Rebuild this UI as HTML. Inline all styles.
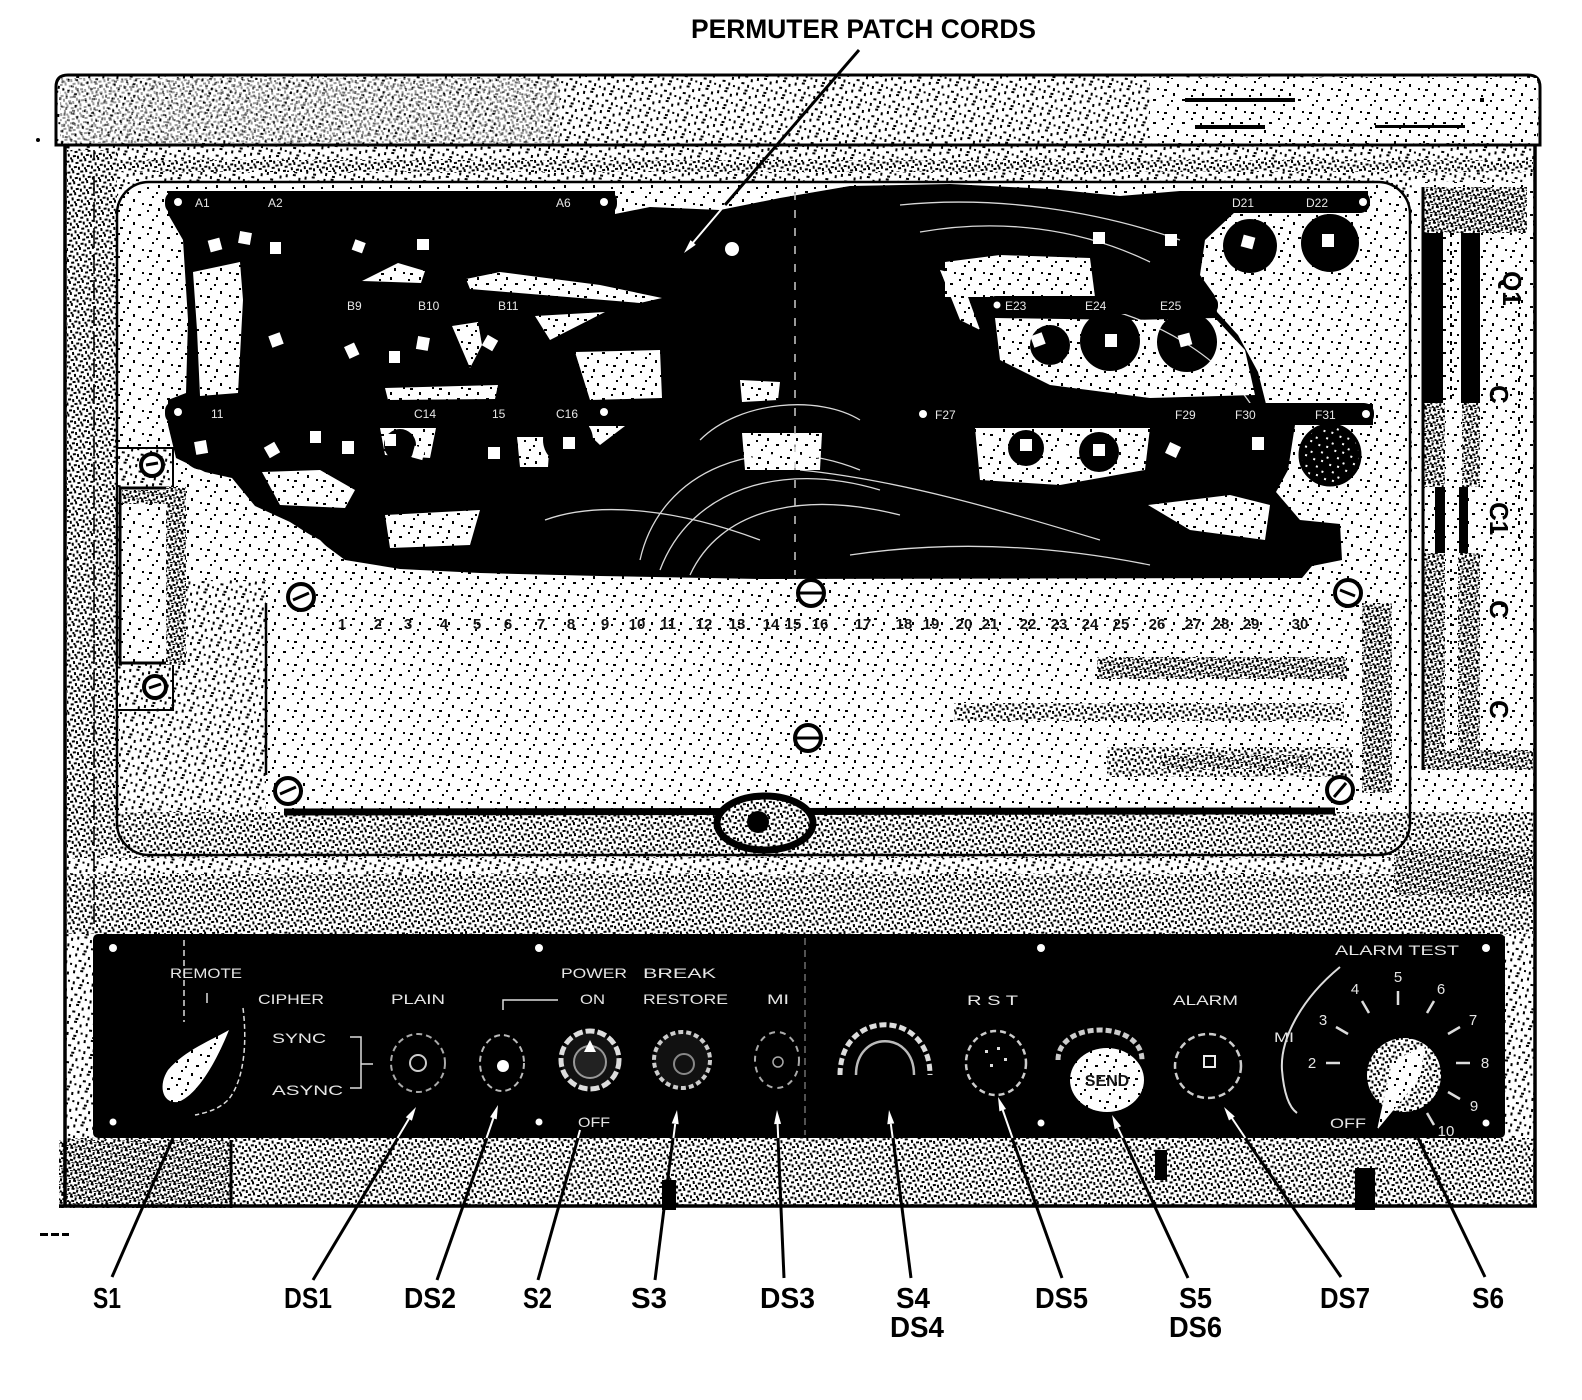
<!DOCTYPE html>
<html><head><meta charset="utf-8"><style>
html,body{margin:0;padding:0;background:#fff;}
svg{display:block;}
</style></head><body>
<svg width="1582" height="1400" viewBox="0 0 1582 1400" xmlns="http://www.w3.org/2000/svg" font-family="'Liberation Sans', sans-serif">
<defs>
<pattern id="Plt" width="29" height="23" patternUnits="userSpaceOnUse">
<rect width="29" height="23" fill="#fff"/>
<g fill="#000"><rect x="2" y="3" width="2" height="2"/><rect x="13" y="1" width="2" height="3"/><rect x="22" y="7" width="3" height="2"/><rect x="7" y="12" width="2" height="2"/><rect x="17" y="15" width="2" height="3"/><rect x="26" y="19" width="2" height="2"/><rect x="4" y="20" width="3" height="2"/><rect x="11" y="8" width="2" height="2"/></g>
</pattern>
<pattern id="Pmd" width="19" height="17" patternUnits="userSpaceOnUse" patternTransform="rotate(7)">
<rect width="19" height="17" fill="#fff"/>
<g fill="#000"><rect x="1" y="2" width="2" height="3"/><rect x="8" y="1" width="3" height="2"/><rect x="14" y="4" width="2" height="3"/><rect x="5" y="8" width="3" height="2"/><rect x="11" y="10" width="2" height="3"/><rect x="16" y="12" width="2" height="2"/><rect x="2" y="13" width="2" height="3"/><rect x="9" y="15" width="3" height="2"/></g>
</pattern>
<pattern id="Pdk" width="13" height="11" patternUnits="userSpaceOnUse" patternTransform="rotate(-5)">
<rect width="13" height="11" fill="#fff"/>
<g fill="#000"><rect x="0" y="1" width="3" height="2"/><rect x="5" y="0" width="2" height="3"/><rect x="9" y="3" width="3" height="2"/><rect x="2" y="5" width="2" height="3"/><rect x="7" y="7" width="3" height="2"/><rect x="11" y="8" width="2" height="3"/><rect x="4" y="9" width="2" height="2"/></g>
</pattern>
<pattern id="Pxd" width="9" height="8" patternUnits="userSpaceOnUse" patternTransform="rotate(11)">
<rect width="9" height="8" fill="#fff"/>
<g fill="#000"><rect x="0" y="0" width="3" height="2"/><rect x="5" y="1" width="2" height="3"/><rect x="2" y="4" width="3" height="2"/><rect x="7" y="5" width="2" height="2"/><rect x="0" y="6" width="2" height="2"/><rect x="4" y="7" width="3" height="1"/></g>
</pattern>
<pattern id="Pwk" width="17" height="15" patternUnits="userSpaceOnUse" patternTransform="rotate(20)">
<rect width="17" height="15" fill="#000"/>
<g fill="#fff"><rect x="2" y="2" width="2" height="2"/><rect x="9" y="5" width="2" height="2"/><rect x="14" y="11" width="2" height="2"/><rect x="5" y="10" width="2" height="2"/></g>
</pattern>
</defs>

<rect width="1582" height="1400" fill="#fff"/>

<!-- body -->
<rect x="65" y="145" width="1470" height="1060" fill="url(#Pmd)"/>
<rect x="67" y="150" width="50" height="780" fill="url(#Pdk)"/>
<!-- inner panel -->
<rect x="117" y="182" width="1293" height="673" rx="32" fill="url(#Plt)"/>
<rect x="119" y="580" width="147" height="270" fill="url(#Pmd)"/>
<!-- dense band -->
<rect x="67" y="812" width="1466" height="122" fill="url(#Pdk)"/>
<rect x="67" y="858" width="1466" height="16" fill="url(#Pmd)"/>
<rect x="1394" y="850" width="138" height="45" fill="url(#Pxd)"/>
<rect x="780" y="880" width="510" height="45" fill="url(#Pdk)"/>
<rect x="117" y="182" width="1293" height="673" rx="32" fill="none" stroke="#000" stroke-width="2.5"/>
<line x1="94" y1="150" x2="94" y2="930" stroke="#000" stroke-width="1.5" stroke-dasharray="20 6"/>
<rect x="67" y="160" width="1466" height="12" fill="url(#Pdk)"/>

<!-- top band -->
<path d="M56,145 L56,87 Q56,75 68,75 L1528,75 Q1540,75 1540,87 L1540,145 Z" fill="url(#Pmd)" stroke="#000" stroke-width="3"/>
<rect x="1150" y="78" width="387" height="65" fill="url(#Plt)"/>
<rect x="60" y="78" width="500" height="65" fill="url(#Pdk)" opacity="0.4"/>
<g fill="#000"><rect x="1185" y="98" width="110" height="4"/><rect x="1195" y="125" width="70" height="4"/><rect x="1375" y="125" width="90" height="3"/><rect x="1480" y="98" width="4" height="4"/></g>

<!-- bottom strip of body -->
<rect x="67" y="1138" width="1466" height="67" fill="url(#Pdk)"/>
<rect x="59" y="1140" width="172" height="68" fill="url(#Pxd)"/>
<line x1="231" y1="1140" x2="231" y2="1208" stroke="#000" stroke-width="3"/>
<rect x="662" y="1180" width="14" height="30" fill="#000"/>
<rect x="1355" y="1168" width="20" height="42" fill="#000"/>
<rect x="1155" y="1150" width="12" height="30" fill="#000"/>

<!-- body outline -->
<line x1="65" y1="145" x2="65" y2="1207" stroke="#000" stroke-width="3.5"/>
<line x1="1535" y1="145" x2="1535" y2="1207" stroke="#000" stroke-width="3.5"/>
<line x1="59" y1="1206" x2="1537" y2="1206" stroke="#000" stroke-width="3.5"/>

<!-- right component -->
<rect x="1412" y="182" width="121" height="630" fill="url(#Plt)"/>
<rect x="1423" y="187" width="104" height="46" fill="url(#Pxd)"/>
<rect x="1423" y="233" width="20" height="170" fill="#000"/>
<rect x="1461" y="233" width="19" height="170" fill="#000"/>
<line x1="1451" y1="233" x2="1451" y2="403" stroke="#000" stroke-width="2" stroke-dasharray="4 5"/>
<rect x="1423" y="403" width="22" height="84" fill="url(#Pxd)"/>
<rect x="1462" y="403" width="18" height="84" fill="url(#Pxd)"/>
<rect x="1435" y="487" width="10" height="66" fill="#000"/>
<rect x="1459" y="487" width="9" height="66" fill="#000"/>
<rect x="1423" y="553" width="22" height="200" fill="url(#Pxd)"/>
<rect x="1458" y="553" width="22" height="200" fill="url(#Pxd)"/>
<line x1="1451" y1="560" x2="1451" y2="750" stroke="#000" stroke-width="2" stroke-dasharray="3 6"/>
<rect x="1423" y="750" width="110" height="20" fill="url(#Pxd)"/>
<line x1="1423" y1="187" x2="1423" y2="770" stroke="#000" stroke-width="3"/>
<line x1="1519" y1="300" x2="1519" y2="560" stroke="#000" stroke-width="2" stroke-dasharray="4 9"/>
<g font-size="26" font-weight="bold" fill="#000">
<text x="1486" y="272" transform="rotate(90 1495 280)">Q1</text>
<text x="1485" y="400" transform="rotate(90 1495 395)">C</text>
<text x="1482" y="520" transform="rotate(90 1495 515)">C1</text>
<text x="1485" y="615" transform="rotate(90 1495 610)">C</text>
<text x="1485" y="715" transform="rotate(90 1495 710)">C</text>
</g>

<!-- left component -->
<rect x="117" y="448" width="56" height="262" fill="url(#Pmd)" stroke="#000" stroke-width="2"/>
<rect x="120" y="488" width="48" height="175" fill="url(#Plt)" stroke="#000" stroke-width="3"/>
<rect x="166" y="487" width="20" height="178" fill="url(#Pxd)"/>
<rect x="122" y="490" width="44" height="14" fill="url(#Pxd)"/>
<circle cx="152" cy="465" r="11" fill="#fff" stroke="#000" stroke-width="4"/>
<path d="M146,465 L158,463" stroke="#000" stroke-width="3"/>
<circle cx="155" cy="687" r="11" fill="#fff" stroke="#000" stroke-width="4"/>
<path d="M149,688 L161,684" stroke="#000" stroke-width="3"/>

<!-- lower plate -->
<rect x="266" y="578" width="1096" height="232" fill="url(#Plt)"/>
<line x1="266" y1="603" x2="266" y2="775" stroke="#000" stroke-width="2.5"/>
<rect x="1362" y="603" width="30" height="190" fill="url(#Pxd)"/>
<line x1="284" y1="812" x2="1335" y2="811" stroke="#000" stroke-width="7"/>
<rect x="1097" y="657" width="250" height="22" fill="url(#Pxd)"/>
<rect x="954" y="703" width="390" height="18" fill="url(#Pdk)"/>
<rect x="1107" y="747" width="246" height="30" fill="url(#Pdk)"/>
<rect x="1160" y="755" width="150" height="14" fill="url(#Pxd)"/>
<g font-size="15" font-weight="bold" fill="#111" text-anchor="middle">
<text x="342" y="629">1</text><text x="378" y="629">2</text><text x="408" y="629">3</text><text x="444" y="629">4</text><text x="477" y="629">5</text><text x="508" y="629">6</text><text x="541" y="629">7</text><text x="571" y="629">8</text><text x="605" y="629">9</text><text x="637" y="629">10</text><text x="668" y="629">11</text><text x="704" y="629">12</text><text x="737" y="629">13</text><text x="771" y="629">14</text><text x="793" y="629">15</text><text x="820" y="629">16</text><text x="863" y="629">17</text><text x="904" y="629">18</text><text x="931" y="629">19</text><text x="964" y="629">20</text><text x="990" y="629">21</text><text x="1028" y="629">22</text><text x="1059" y="629">23</text><text x="1090" y="629">24</text><text x="1121" y="629">25</text><text x="1157" y="629">26</text><text x="1193" y="629">27</text><text x="1221" y="629">28</text><text x="1251" y="629">29</text><text x="1300" y="629">30</text>
</g>
<!-- screws -->
<g stroke="#000" stroke-width="4" fill="#fff">
<circle cx="301" cy="597" r="13"/><circle cx="811" cy="593" r="13"/><circle cx="1348" cy="593" r="13"/>
<circle cx="288" cy="791" r="13"/><circle cx="808" cy="738" r="13"/><circle cx="1340" cy="790" r="13"/>
</g>
<g stroke="#000" stroke-width="3">
<path d="M293,600 L309,593"/><path d="M800,593 L822,593"/><path d="M1340,590 L1355,596"/>
<path d="M280,794 L296,787"/><path d="M797,738 L819,738"/><path d="M1334,797 L1346,783"/>
</g>
<!-- oval knob under plate -->
<ellipse cx="765" cy="823" rx="48" ry="27" fill="url(#Pdk)" stroke="#000" stroke-width="7"/>
<circle cx="758" cy="822" r="11" fill="#000"/>

<!-- patch cord mass -->
<path d="M168,191 L615,191 L615,214 L650,207 L720,210 L780,198 L850,186 L950,184 L1050,189 L1120,196 L1180,191 L1368,191 L1368,208 L1235,212 L1205,240 L1200,275 L1215,296 L1217,312 L1238,335 L1258,372 L1266,404 L1373,404 L1373,425 L1295,425 L1288,470 L1276,492 L1300,520 L1340,524 L1342,560 L1312,566 L1302,578 L760,579 L600,576 L480,573 L400,569 L345,560 L318,540 L290,522 L255,506 L232,478 L205,472 L176,458 L168,425 L168,400 L186,393 L188,320 L183,240 L168,214 Z" fill="#000"/>
<g fill="url(#Plt)">
<polygon points="193,272 240,262 243,300 238,393 200,396 197,330"/>
<polygon points="362,281 398,263 425,271 421,283"/>
<polygon points="466,279 500,272 600,285 662,298 640,303 470,289"/>
<polygon points="452,326 478,322 482,345 470,368"/>
<polygon points="385,388 498,385 495,399 388,400"/>
<polygon points="535,316 605,312 550,340"/>
<polygon points="575,352 660,350 662,398 590,400"/>
<polygon points="380,428 436,428 430,458 385,455"/>
<polygon points="517,437 550,437 548,467 520,467"/>
<polygon points="580,426 625,426 600,445"/>
<polygon points="262,472 320,470 355,490 345,508 280,505"/>
<polygon points="385,515 480,510 470,545 390,548"/>
<polygon points="945,262 1000,255 1090,258 1095,297 945,297"/>
<polygon points="940,270 960,275 980,330 960,320"/>
<polygon points="995,318 1130,320 1215,318 1245,350 1255,395 1150,398 1050,385 1000,360"/>
<polygon points="975,428 1150,428 1145,470 1060,485 980,480"/>
<polygon points="1148,505 1230,495 1270,505 1265,540 1190,530"/>
<polygon points="742,433 822,433 820,470 745,470"/>
<polygon points="740,380 780,382 778,400 742,402"/>
<polygon points="292,525 320,540 340,560 300,562 285,540"/>
</g>
<!-- plug circles -->
<g fill="#000">
<circle cx="1110" cy="341" r="30"/><circle cx="1187" cy="342" r="30"/>
<circle cx="1250" cy="246" r="27"/><circle cx="1330" cy="243" r="29"/>
<circle cx="1258" cy="447" r="27"/>
<circle cx="203" cy="448" r="22"/><circle cx="493" cy="447" r="25"/><circle cx="568" cy="440" r="25"/>
<circle cx="1050" cy="345" r="20"/>
<circle cx="1026" cy="448" r="18"/><circle cx="1099" cy="452" r="20"/><circle cx="1173" cy="452" r="20"/>
<circle cx="400" cy="445" r="16"/>
</g>
<circle cx="1330" cy="455" r="30" fill="url(#Pwk)" stroke="#000" stroke-width="3"/>
<!-- cord highlights -->
<g fill="none" stroke="#fff" stroke-width="1.3" opacity="0.85">
<path d="M640,560 C660,470 760,430 860,470"/>
<path d="M660,570 C690,490 780,460 880,490"/>
<path d="M690,575 C720,510 800,490 900,515"/>
<path d="M700,440 C740,400 820,395 860,420"/>
<path d="M900,205 C1000,195 1100,212 1180,240"/>
<path d="M920,232 C1000,218 1080,228 1150,262"/>
<path d="M545,520 C600,500 680,510 760,540"/>
<path d="M800,470 C900,480 1000,510 1100,540"/>
<path d="M850,555 C950,540 1050,545 1150,565"/>
<path d="M1060,300 C1150,310 1230,360 1260,420"/>
</g>
<line x1="795" y1="192" x2="795" y2="575" stroke="#ccc" stroke-width="1.5" stroke-dasharray="8 10"/>
<!-- white connector squares -->
<g fill="#fff">
<rect x="209" y="239" width="12" height="12" transform="rotate(-15 215 245)"/>
<rect x="239" y="232" width="12" height="12" transform="rotate(10 245 238)"/>
<rect x="270" y="242" width="11" height="12"/>
<rect x="353" y="241" width="11" height="11" transform="rotate(20 359 247)"/>
<rect x="417" y="239" width="12" height="11"/>
<rect x="270" y="334" width="12" height="12" transform="rotate(-20 276 340)"/>
<rect x="346" y="344" width="11" height="13" transform="rotate(-25 352 350)"/>
<rect x="389" y="351" width="11" height="12"/>
<rect x="417" y="337" width="12" height="13" transform="rotate(10 423 343)"/>
<rect x="484" y="337" width="12" height="12" transform="rotate(30 490 343)"/>
<rect x="195" y="441" width="12" height="13" transform="rotate(-10 201 447)"/>
<rect x="266" y="444" width="12" height="12" transform="rotate(-30 272 450)"/>
<rect x="310" y="431" width="11" height="12"/>
<rect x="342" y="441" width="12" height="13"/>
<rect x="385" y="434" width="11" height="12"/>
<rect x="413" y="447" width="11" height="12" transform="rotate(15 419 453)"/>
<rect x="488" y="447" width="12" height="12"/>
<rect x="563" y="437" width="12" height="12"/>
<rect x="1093" y="232" width="12" height="12"/>
<rect x="1165" y="234" width="12" height="12"/>
<rect x="1242" y="236" width="12" height="12" transform="rotate(15 1248 242)"/>
<rect x="1322" y="234" width="12" height="13"/>
<rect x="1032" y="334" width="12" height="12" transform="rotate(-20 1038 340)"/>
<rect x="1105" y="334" width="12" height="13"/>
<rect x="1179" y="334" width="12" height="12" transform="rotate(-15 1185 340)"/>
<rect x="983" y="437" width="12" height="12"/>
<rect x="1020" y="439" width="12" height="12"/>
<rect x="1056" y="444" width="12" height="12" transform="rotate(20 1062 450)"/>
<rect x="1093" y="444" width="12" height="12"/>
<rect x="1167" y="444" width="12" height="12" transform="rotate(25 1173 450)"/>
<rect x="1252" y="437" width="12" height="13"/>
<circle cx="732" cy="249" r="7"/>
</g>
<!-- strips -->
<g fill="#000">
<rect x="165" y="191" width="452" height="23" rx="10"/>
<rect x="165" y="401" width="452" height="23" rx="10"/>
<rect x="330" y="298" width="180" height="16" rx="6"/>
<rect x="1175" y="191" width="195" height="22" rx="10"/>
<rect x="988" y="296" width="230" height="18" rx="8"/>
<rect x="912" y="403" width="462" height="22" rx="10"/>
</g>
<g fill="#fff">
<circle cx="178" cy="202" r="4"/><circle cx="604" cy="202" r="4"/>
<circle cx="178" cy="412" r="4"/><circle cx="604" cy="412" r="4"/>
<circle cx="1363" cy="202" r="4"/><circle cx="997" cy="305" r="3.5"/>
<circle cx="923" cy="414" r="4"/><circle cx="1366" cy="414" r="4"/>
</g>
<g font-size="12" fill="#e8e8e8">
<text x="195" y="207">A1</text><text x="268" y="207">A2</text><text x="556" y="207">A6</text>
<text x="211" y="418">11</text><text x="414" y="418">C14</text><text x="492" y="418">15</text><text x="556" y="418">C16</text>
<text x="347" y="310">B9</text><text x="418" y="310">B10</text><text x="498" y="310">B11</text>
<text x="1232" y="207">D21</text><text x="1306" y="207">D22</text>
<text x="1005" y="310">E23</text><text x="1085" y="310">E24</text><text x="1160" y="310">E25</text>
<text x="935" y="419">F27</text><text x="1175" y="419">F29</text><text x="1235" y="419">F30</text><text x="1315" y="419">F31</text>
</g>

<!-- control panel -->
<rect x="93" y="934" width="1412" height="204" rx="5" fill="#000"/>
<g fill="#fff">
<circle cx="113" cy="948" r="4"/><circle cx="539" cy="948" r="4"/><circle cx="1041" cy="948" r="4"/><circle cx="1486" cy="948" r="4"/>
<circle cx="113" cy="1122" r="3.5"/><circle cx="539" cy="1122" r="3.5"/><circle cx="1041" cy="1123" r="3.5"/><circle cx="1486" cy="1123" r="3.5"/>
</g>
<line x1="805" y1="938" x2="805" y2="1135" stroke="#888" stroke-width="1.2" stroke-dasharray="7 5"/>
<g font-size="14" fill="#e6e6e6">
<text x="170" y="978" textLength="72" lengthAdjust="spacingAndGlyphs">REMOTE</text>
<text x="258" y="1004" textLength="66" lengthAdjust="spacingAndGlyphs">CIPHER</text>
<text x="272" y="1043" textLength="54" lengthAdjust="spacingAndGlyphs">SYNC</text>
<text x="272" y="1095" textLength="71" lengthAdjust="spacingAndGlyphs">ASYNC</text>
<text x="391" y="1004" textLength="54" lengthAdjust="spacingAndGlyphs">PLAIN</text>
<text x="561" y="978" textLength="66" lengthAdjust="spacingAndGlyphs">POWER</text>
<text x="580" y="1004" textLength="25" lengthAdjust="spacingAndGlyphs">ON</text>
<text x="643" y="978" textLength="73" lengthAdjust="spacingAndGlyphs">BREAK</text>
<text x="643" y="1004" textLength="85" lengthAdjust="spacingAndGlyphs">RESTORE</text>
<text x="767" y="1004" textLength="22" lengthAdjust="spacingAndGlyphs">MI</text>
<text x="578" y="1127" textLength="32" lengthAdjust="spacingAndGlyphs">OFF</text>
<text x="967" y="1005" textLength="51" lengthAdjust="spacingAndGlyphs">R S T</text>
<text x="1173" y="1005" textLength="65" lengthAdjust="spacingAndGlyphs">ALARM</text>
<text x="1335" y="955" textLength="124" lengthAdjust="spacingAndGlyphs">ALARM TEST</text>
<text x="1274" y="1042" textLength="20" lengthAdjust="spacingAndGlyphs">MI</text>
<text x="1330" y="1128" textLength="36" lengthAdjust="spacingAndGlyphs">OFF</text>
</g>
<g stroke="#ddd" stroke-width="1.5" fill="none">
<path d="M350,1037 L361,1037 L361,1088 L350,1088 M361,1064 L373,1064"/>
<path d="M503,1010 L503,1000 L558,1000"/>
<line x1="184" y1="940" x2="184" y2="1022" stroke-dasharray="6 4"/>
<line x1="207" y1="993" x2="207" y2="1003"/>
<path d="M243,1008 C247,1040 245,1080 228,1100 C220,1108 210,1112 195,1115" stroke-dasharray="5 3"/>
</g>
<!-- S1 knob -->
<path d="M229,1030 C212,1040 185,1050 168,1070 C158,1085 162,1104 178,1102 C196,1096 215,1065 229,1030 Z" fill="url(#Plt)"/>
<!-- DS1 -->
<ellipse cx="418" cy="1063" rx="27" ry="29" fill="none" stroke="#aaa" stroke-width="2" stroke-dasharray="6 4"/>
<circle cx="418" cy="1063" r="8" fill="none" stroke="#ccc" stroke-width="2"/>
<!-- DS2 -->
<ellipse cx="502" cy="1063" rx="22" ry="28" fill="none" stroke="#bbb" stroke-width="2" stroke-dasharray="6 4"/>
<circle cx="503" cy="1066" r="6" fill="#fff"/>
<!-- S2 -->
<circle cx="590" cy="1060" r="29" fill="#111" stroke="#ddd" stroke-width="5" stroke-dasharray="9 3"/>
<circle cx="590" cy="1062" r="16" fill="#222" stroke="#999" stroke-width="2"/>
<path d="M584,1052 L590,1040 L596,1052 Z" fill="#fff"/>
<!-- S3 -->
<circle cx="682" cy="1060" r="28" fill="#111" stroke="#ccc" stroke-width="4" stroke-dasharray="5 3"/>
<circle cx="684" cy="1064" r="10" fill="none" stroke="#888" stroke-width="2"/>
<!-- DS3 -->
<ellipse cx="777" cy="1060" rx="22" ry="28" fill="none" stroke="#aaa" stroke-width="2" stroke-dasharray="6 5"/>
<circle cx="778" cy="1062" r="5" fill="none" stroke="#aaa" stroke-width="1.5"/>
<!-- S4 -->
<path d="M840,1075 C840,1008 930,1008 930,1075" fill="none" stroke="#ddd" stroke-width="5" stroke-dasharray="7 3"/>
<path d="M856,1075 C856,1030 914,1030 914,1075" fill="none" stroke="#bbb" stroke-width="2.5"/>
<!-- DS5 -->
<ellipse cx="996" cy="1063" rx="30" ry="32" fill="none" stroke="#ccc" stroke-width="2.5" stroke-dasharray="6 4"/>
<g fill="#ddd"><rect x="985" y="1050" width="3" height="3"/><rect x="997" y="1047" width="3" height="3"/><rect x="1004" y="1058" width="3" height="3"/><rect x="990" y="1064" width="3" height="3"/></g>
<!-- S5 SEND -->
<path d="M1058,1060 C1058,1020 1142,1020 1142,1060" fill="none" stroke="#ccc" stroke-width="5" stroke-dasharray="6 3"/>
<ellipse cx="1107" cy="1080" rx="37" ry="32" fill="url(#Plt)"/>
<text x="1107" y="1086" font-size="16" font-weight="bold" fill="#111" text-anchor="middle">SEND</text>
<!-- DS7 -->
<ellipse cx="1208" cy="1066" rx="33" ry="32" fill="none" stroke="#ccc" stroke-width="2.5" stroke-dasharray="7 4"/>
<rect x="1204" y="1056" width="11" height="11" fill="none" stroke="#eee" stroke-width="2"/>
<!-- S6 dial -->
<path d="M1340,967 C1300,1000 1280,1040 1282,1070 C1284,1095 1290,1108 1297,1113" fill="none" stroke="#ddd" stroke-width="2"/>
<g stroke="#ddd" stroke-width="2.5">
<line x1="1340" y1="1063" x2="1326" y2="1063"/>
<line x1="1348" y1="1034" x2="1336" y2="1027"/>
<line x1="1369" y1="1013" x2="1362" y2="1001"/>
<line x1="1398" y1="1005" x2="1398" y2="991"/>
<line x1="1427" y1="1013" x2="1434" y2="1001"/>
<line x1="1448" y1="1034" x2="1460" y2="1027"/>
<line x1="1456" y1="1063" x2="1470" y2="1063"/>
<line x1="1448" y1="1092" x2="1460" y2="1099"/>
<line x1="1427" y1="1113" x2="1434" y2="1125"/>
</g>
<g font-size="15" fill="#e6e6e6" text-anchor="middle">
<text x="1312" y="1068">2</text><text x="1323" y="1025">3</text><text x="1355" y="994">4</text><text x="1398" y="982">5</text><text x="1441" y="994">6</text><text x="1473" y="1025">7</text><text x="1485" y="1068">8</text><text x="1474" y="1111">9</text><text x="1446" y="1136">10</text>
</g>
<circle cx="1404" cy="1075" r="37" fill="url(#Pdk)"/>
<path d="M1377,1130 L1392,1062 L1425,1045 L1420,1078 Z" fill="url(#Plt)"/>

<!-- leader lines -->
<g stroke="#000" stroke-width="3" fill="none">
<line x1="859" y1="50" x2="725" y2="205"/>
<line x1="112" y1="1277" x2="173" y2="1138"/>
<line x1="313" y1="1280" x2="398" y2="1138"/>
<line x1="437" y1="1280" x2="487" y2="1138"/>
<line x1="538" y1="1280" x2="578" y2="1138"/>
<line x1="655" y1="1280" x2="673" y2="1138"/>
<line x1="784" y1="1278" x2="778" y2="1138"/>
<line x1="911" y1="1278" x2="893" y2="1138"/>
<line x1="1062" y1="1278" x2="1012" y2="1138"/>
<line x1="1188" y1="1278" x2="1123" y2="1138"/>
<line x1="1341" y1="1277" x2="1245" y2="1138"/>
<line x1="1485" y1="1277" x2="1418" y2="1138"/>
</g>
<g stroke="#fff" stroke-width="2" fill="none">
<line x1="725" y1="205" x2="691" y2="245"/>
<line x1="397.5" y1="1138" x2="408.8" y2="1119"/>
<line x1="486.5" y1="1138" x2="493.4" y2="1118"/>
<line x1="577.8" y1="1138" x2="580" y2="1130"/>
<line x1="673.4" y1="1138" x2="675.2" y2="1124"/>
<line x1="778.2" y1="1138" x2="777.6" y2="1124"/>
<line x1="892.7" y1="1138" x2="890.8" y2="1124"/>
<line x1="1012.5" y1="1138" x2="1002.7" y2="1110"/>
<line x1="1122.7" y1="1138" x2="1117.9" y2="1128"/>
<line x1="1245.3" y1="1138" x2="1231.9" y2="1118"/>
</g>
<g fill="#fff">
<polygon points="684,253 695.8,244.7 690.5,240.1"/>
<polygon points="416,1107 411.9,1120.8 405.8,1117.2"/>
<polygon points="498,1105 496.7,1119.4 490.1,1117.1"/>
<polygon points="677,1110 678.7,1124.3 671.7,1123.4"/>
<polygon points="777,1110 781.1,1123.9 774.1,1124.1"/>
<polygon points="889,1110 894.3,1123.4 887.3,1124.3"/>
<polygon points="998,1097 1006,1109 999.4,1111.4"/>
<polygon points="1112,1115 1121.1,1126.2 1114.7,1129.2"/>
<polygon points="1224,1107 1234.8,1116.5 1229,1120.5"/>
</g>

<!-- labels -->
<g font-size="29" font-weight="bold" fill="#000">
<text x="93" y="1308" textLength="28" lengthAdjust="spacingAndGlyphs">S1</text>
<text x="284" y="1308" textLength="48" lengthAdjust="spacingAndGlyphs">DS1</text>
<text x="404" y="1308" textLength="52" lengthAdjust="spacingAndGlyphs">DS2</text>
<text x="523" y="1308" textLength="29" lengthAdjust="spacingAndGlyphs">S2</text>
<text x="631" y="1308" textLength="36" lengthAdjust="spacingAndGlyphs">S3</text>
<text x="760" y="1308" textLength="55" lengthAdjust="spacingAndGlyphs">DS3</text>
<text x="896" y="1308" textLength="34" lengthAdjust="spacingAndGlyphs">S4</text>
<text x="890" y="1337" textLength="54" lengthAdjust="spacingAndGlyphs">DS4</text>
<text x="1035" y="1308" textLength="53" lengthAdjust="spacingAndGlyphs">DS5</text>
<text x="1179" y="1308" textLength="33" lengthAdjust="spacingAndGlyphs">S5</text>
<text x="1169" y="1337" textLength="53" lengthAdjust="spacingAndGlyphs">DS6</text>
<text x="1320" y="1308" textLength="50" lengthAdjust="spacingAndGlyphs">DS7</text>
<text x="1472" y="1308" textLength="32" lengthAdjust="spacingAndGlyphs">S6</text>
</g>
<text x="691" y="38" font-size="27" font-weight="bold" fill="#000" textLength="345" lengthAdjust="spacingAndGlyphs">PERMUTER PATCH CORDS</text>
<g fill="#000"><rect x="40" y="1233" width="8" height="3"/><rect x="51" y="1233" width="8" height="3"/><rect x="62" y="1233" width="7" height="3"/><circle cx="38" cy="140" r="2"/></g>
</svg>
</body></html>
